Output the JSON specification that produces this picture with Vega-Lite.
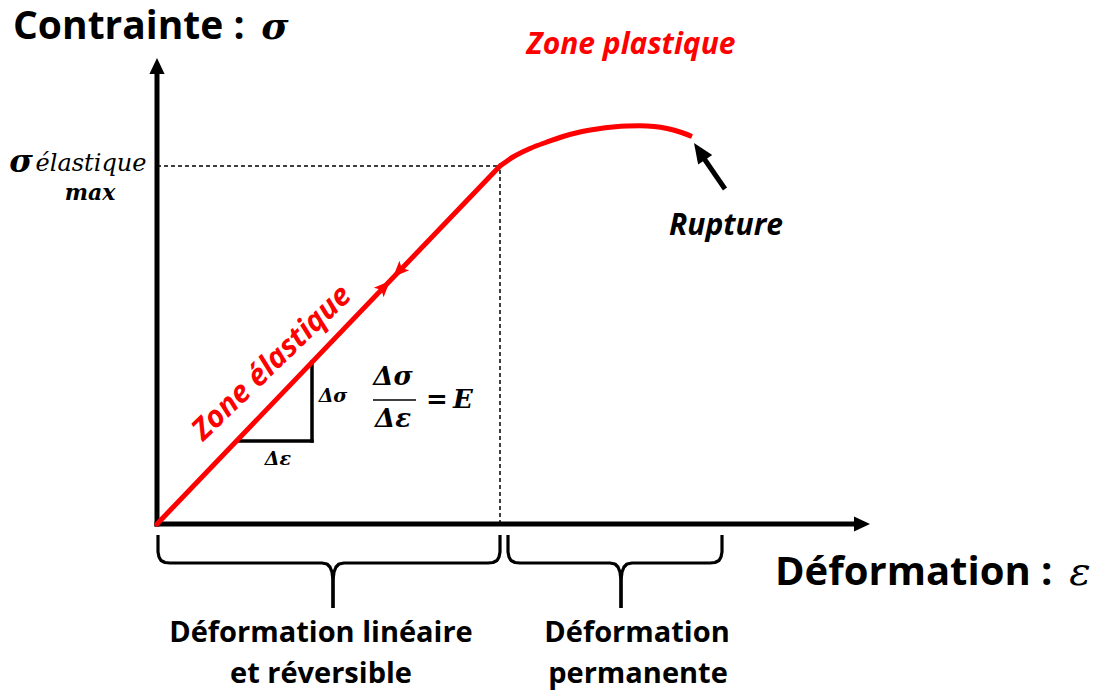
{
  "$schema": "https://vega.github.io/schema/vega-lite/v6.json",
  "width": 1109,
  "height": 692,
  "padding": 0,
  "autosize": {"type": "fit", "contains": "padding"},
  "background": "white",
  "config": {"view": {"stroke": null}},
  "encoding": {
    "x": {"field": "x", "type": "quantitative", "scale": {"domain": [-157, 952], "nice": false, "zero": false}, "axis": null},
    "y": {"field": "y", "type": "quantitative", "scale": {"domain": [-168, 524], "nice": false, "zero": false}, "axis": null}
  },
  "layer": [
    {
      "data": {"values": [{"x": -2.5, "y": 0, "x2": 699, "y2": 0}, {"x": 0, "y": -2.5, "x2": 0, "y2": 452}]},
      "mark": {"type": "rule", "color": "#000000", "strokeWidth": 5, "strokeCap": "butt"},
      "encoding": {"x2": {"field": "x2"}, "y2": {"field": "y2"}}
    },
    {
      "data": {"values": [{"x": 0, "y": 358, "x2": 343, "y2": 358}, {"x": 343, "y": 0, "x2": 343, "y2": 358}]},
      "mark": {"type": "rule", "color": "#000000", "strokeWidth": 1.5, "strokeDash": [4, 3]},
      "encoding": {"x2": {"field": "x2"}, "y2": {"field": "y2"}}
    },
    {
      "data": {"values": [{"x": 155, "y": 83, "x2": 155, "y2": 162}, {"x": 80, "y": 83, "x2": 155, "y2": 83}]},
      "mark": {"type": "rule", "color": "#000000", "strokeWidth": 3.5, "strokeCap": "square"},
      "encoding": {"x2": {"field": "x2"}, "y2": {"field": "y2"}}
    },
    {
      "data": {"values": [{"x": 216, "y": 124, "x2": 259, "y2": 124}]},
      "mark": {"type": "rule", "color": "#000000", "strokeWidth": 1.5},
      "encoding": {"x2": {"field": "x2"}, "y2": {"field": "y2"}}
    },
    {
      "data": {"values": [{"x": 568, "y": 335, "x2": 546, "y2": 367}]},
      "mark": {"type": "rule", "color": "#000000", "strokeWidth": 5, "strokeCap": "butt"},
      "encoding": {"x2": {"field": "x2"}, "y2": {"field": "y2"}}
    },
    {
      "data": {"values": [
        {"i": 0, "x": 0, "y": 0},
        {"i": 1, "x": 343, "y": 358}
      ]},
      "mark": {"type": "line", "color": "#ff0000", "strokeWidth": 5, "interpolate": "linear", "strokeCap": "round"},
      "encoding": {"order": {"field": "i", "type": "quantitative"}}
    },
    {
      "data": {"values": [
        {"i": 0, "x": 343, "y": 358},
        {"i": 1, "x": 356, "y": 367},
        {"i": 2, "x": 373, "y": 375.5},
        {"i": 3, "x": 390, "y": 382},
        {"i": 4, "x": 406, "y": 387.5},
        {"i": 5, "x": 423, "y": 392},
        {"i": 6, "x": 440, "y": 395},
        {"i": 7, "x": 456, "y": 397},
        {"i": 8, "x": 470, "y": 398},
        {"i": 9, "x": 483, "y": 398.2},
        {"i": 10, "x": 497, "y": 397.5},
        {"i": 11, "x": 510, "y": 395.5},
        {"i": 12, "x": 523, "y": 392},
        {"i": 13, "x": 535, "y": 387.5}
      ]},
      "mark": {"type": "line", "color": "#ff0000", "strokeWidth": 5, "interpolate": "monotone", "strokeCap": "butt"},
      "encoding": {"order": {"field": "i", "type": "quantitative"}}
    },
    {
      "data": {"values": [
        {"part": "a1", "i": 0, "x": 1, "y": -11}, {"part": "a1", "i": 1, "x": 1, "y": -28}, {"part": "a1", "i": 2, "x": 2, "y": -33}, {"part": "a1", "i": 3, "x": 4, "y": -36.5}, {"part": "a1", "i": 4, "x": 8, "y": -38.5}, {"part": "a1", "i": 5, "x": 13, "y": -39}, {"part": "a1", "i": 6, "x": 165, "y": -39}, {"part": "a1", "i": 7, "x": 170, "y": -40}, {"part": "a1", "i": 8, "x": 173, "y": -43}, {"part": "a1", "i": 9, "x": 175, "y": -48}, {"part": "a1", "i": 10, "x": 176, "y": -56}, {"part": "a1", "i": 11, "x": 176, "y": -84},
        {"part": "a2", "i": 0, "x": 176, "y": -84}, {"part": "a2", "i": 1, "x": 176, "y": -56}, {"part": "a2", "i": 2, "x": 177, "y": -48}, {"part": "a2", "i": 3, "x": 179, "y": -43}, {"part": "a2", "i": 4, "x": 182, "y": -40}, {"part": "a2", "i": 5, "x": 187, "y": -39}, {"part": "a2", "i": 6, "x": 331, "y": -39}, {"part": "a2", "i": 7, "x": 336, "y": -38.5}, {"part": "a2", "i": 8, "x": 340, "y": -36.5}, {"part": "a2", "i": 9, "x": 342, "y": -33}, {"part": "a2", "i": 10, "x": 343, "y": -28}, {"part": "a2", "i": 11, "x": 343, "y": -11},
        {"part": "b1", "i": 0, "x": 351, "y": -11}, {"part": "b1", "i": 1, "x": 351, "y": -28}, {"part": "b1", "i": 2, "x": 352, "y": -33}, {"part": "b1", "i": 3, "x": 354, "y": -36.5}, {"part": "b1", "i": 4, "x": 358, "y": -38.5}, {"part": "b1", "i": 5, "x": 363, "y": -39}, {"part": "b1", "i": 6, "x": 453, "y": -39}, {"part": "b1", "i": 7, "x": 458, "y": -40}, {"part": "b1", "i": 8, "x": 461, "y": -43}, {"part": "b1", "i": 9, "x": 463, "y": -48}, {"part": "b1", "i": 10, "x": 464, "y": -56}, {"part": "b1", "i": 11, "x": 464, "y": -84},
        {"part": "b2", "i": 0, "x": 464, "y": -84}, {"part": "b2", "i": 1, "x": 464, "y": -56}, {"part": "b2", "i": 2, "x": 465, "y": -48}, {"part": "b2", "i": 3, "x": 467, "y": -43}, {"part": "b2", "i": 4, "x": 470, "y": -40}, {"part": "b2", "i": 5, "x": 475, "y": -39}, {"part": "b2", "i": 6, "x": 553, "y": -39}, {"part": "b2", "i": 7, "x": 558, "y": -38.5}, {"part": "b2", "i": 8, "x": 562, "y": -36.5}, {"part": "b2", "i": 9, "x": 564, "y": -33}, {"part": "b2", "i": 10, "x": 565, "y": -28}, {"part": "b2", "i": 11, "x": 565, "y": -11}
      ]},
      "mark": {"type": "line", "color": "#000000", "strokeWidth": 3.2, "strokeJoin": "round"},
      "encoding": {"detail": {"field": "part"}, "order": {"field": "i", "type": "quantitative"}}
    },
    {
      "data": {"values": [{"x": 0, "y": 458}]},
      "mark": {"type": "point", "shape": "M0,-1L0.95,1L-0.95,1Z", "size": 256, "filled": true, "color": "#000000", "opacity": 1, "angle": 0}
    },
    {
      "data": {"values": [{"x": 705, "y": 0}]},
      "mark": {"type": "point", "shape": "M0,-1L0.95,1L-0.95,1Z", "size": 256, "filled": true, "color": "#000000", "opacity": 1, "angle": 90}
    },
    {
      "data": {"values": [{"x": 542.6, "y": 372.6}]},
      "mark": {"type": "point", "shape": "M0,-1L0.85,1L-0.85,1Z", "size": 400, "filled": true, "color": "#000000", "opacity": 1, "angle": 326}
    },
    {
      "data": {"values": [{"x": 227, "y": 237}]},
      "mark": {"type": "point", "shape": "M0,-1L0.8,0.9L0,0.45L-0.8,0.9Z", "size": 289, "filled": true, "color": "#ff0000", "opacity": 1, "angle": 44}
    },
    {
      "data": {"values": [{"x": 242, "y": 253}]},
      "mark": {"type": "point", "shape": "M0,-1L0.8,0.9L0,0.45L-0.8,0.9Z", "size": 289, "filled": true, "color": "#ff0000", "opacity": 1, "angle": 224}
    },
    {
      "data": {"values": [{"x": -144, "y": 485, "label": "Contrainte :"}]},
      "mark": {"type": "text", "font": "Open Sans", "fontWeight": "bold", "fontSize": 39, "align": "left", "baseline": "alphabetic", "color": "#000000"},
      "encoding": {"text": {"field": "label"}}
    },
    {
      "data": {"values": [{"x": 618, "y": -49, "label": "Déformation :"}]},
      "mark": {"type": "text", "font": "Open Sans", "fontWeight": "bold", "fontSize": 40, "align": "left", "color": "#000000"},
      "encoding": {"text": {"field": "label"}}
    },
    {
      "data": {"values": [{"x": 164, "y": -109, "label": "Déformation linéaire"}, {"x": 164, "y": -150, "label": "et réversible"}, {"x": 480, "y": -109, "label": "Déformation"}, {"x": 481, "y": -150, "label": "permanente"}]},
      "mark": {"type": "text", "font": "Open Sans", "fontWeight": "bold", "fontSize": 29, "color": "#000000"},
      "encoding": {"text": {"field": "label"}}
    },
    {
      "data": {"values": [{"x": 474, "y": 479, "label": "Zone plastique"}]},
      "mark": {"type": "text", "font": "Open Sans", "fontWeight": "bold", "fontStyle": "italic", "fontSize": 30, "color": "#ff0000"},
      "encoding": {"text": {"field": "label"}}
    },
    {
      "data": {"values": [{"x": 115, "y": 161, "label": "Zone élastique"}]},
      "mark": {"type": "text", "font": "Open Sans", "fontWeight": "bold", "fontStyle": "italic", "fontSize": 30, "angle": -44, "color": "#ff0000"},
      "encoding": {"text": {"field": "label"}}
    },
    {
      "data": {"values": [{"x": 569, "y": 298, "label": "Rupture"}]},
      "mark": {"type": "text", "font": "Open Sans", "fontWeight": "bold", "fontStyle": "italic", "fontSize": 30, "color": "#000000"},
      "encoding": {"text": {"field": "label"}}
    },
    {
      "data": {"values": [{"x": 118, "y": 485, "label": "σ"}]},
      "mark": {"type": "text", "font": "DejaVu Serif", "fontWeight": "bold", "fontStyle": "italic", "fontSize": 37, "baseline": "alphabetic", "color": "#000000"},
      "encoding": {"text": {"field": "label"}}
    },
    {
      "data": {"values": [{"x": 923, "y": -49, "label": "ε"}]},
      "mark": {"type": "text", "font": "DejaVu Serif", "fontStyle": "italic", "fontSize": 40, "color": "#000000"},
      "encoding": {"text": {"field": "label"}}
    },
    {
      "data": {"values": [{"x": -136, "y": 362, "label": "σ"}]},
      "mark": {"type": "text", "font": "DejaVu Serif", "fontWeight": "bold", "fontStyle": "italic", "fontSize": 32, "color": "#000000"},
      "encoding": {"text": {"field": "label"}}
    },
    {
      "data": {"values": [{"x": -66, "y": 360, "label": "élastique"}]},
      "mark": {"type": "text", "font": "DejaVu Serif", "fontStyle": "italic", "fontSize": 24, "color": "#000000"},
      "encoding": {"text": {"field": "label"}}
    },
    {
      "data": {"values": [{"x": -67, "y": 331, "label": "max"}]},
      "mark": {"type": "text", "font": "DejaVu Serif", "fontWeight": "bold", "fontStyle": "italic", "fontSize": 22, "color": "#000000"},
      "encoding": {"text": {"field": "label"}}
    },
    {
      "data": {"values": [{"x": 176, "y": 128, "label": "Δσ"}, {"x": 121, "y": 65, "label": "Δε"}]},
      "mark": {"type": "text", "font": "DejaVu Serif", "fontWeight": "bold", "fontStyle": "italic", "fontSize": 19, "color": "#000000"},
      "encoding": {"text": {"field": "label"}}
    },
    {
      "data": {"values": [{"x": 236, "y": 147, "label": "Δσ"}, {"x": 236, "y": 105, "label": "Δε"}]},
      "mark": {"type": "text", "font": "DejaVu Serif", "fontWeight": "bold", "fontStyle": "italic", "fontSize": 26, "color": "#000000"},
      "encoding": {"text": {"field": "label"}}
    },
    {
      "data": {"values": [{"x": 280, "y": 124, "label": "="}]},
      "mark": {"type": "text", "font": "DejaVu Serif", "fontWeight": "bold", "fontSize": 26, "color": "#000000"},
      "encoding": {"text": {"field": "label"}}
    },
    {
      "data": {"values": [{"x": 306, "y": 124, "label": "E"}]},
      "mark": {"type": "text", "font": "DejaVu Serif", "fontWeight": "bold", "fontStyle": "italic", "fontSize": 26, "color": "#000000"},
      "encoding": {"text": {"field": "label"}}
    }
  ]
}
